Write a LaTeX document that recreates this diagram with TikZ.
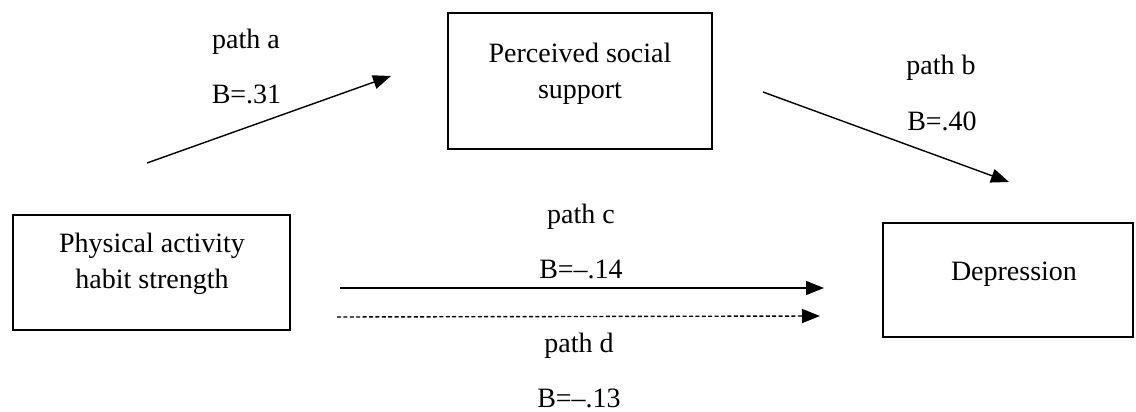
\documentclass[tikz,border=0pt]{standalone}
\usepackage{fontspec}
\setmainfont{Liberation Serif}
\usetikzlibrary{arrows.meta,positioning}
\tikzset{
    >={Triangle[length=9pt,width=7pt]},
    varbox/.style={rectangle, draw, line width=0.9pt, inner sep=0pt},
    boxtext/.style={align=center, inner sep=0pt},
    pathlbl/.style={anchor=base, inner sep=0pt},
    effect/.style={->, line width=0.7pt},
    indirect/.style={->, line width=0.7pt, dash pattern=on 2pt off 1.2pt}
}

\begin{document}
\begin{tikzpicture}[x=0.5pt, y=-0.5pt, font=\fontsize{14pt}{18pt}\selectfont]
    \useasboundingbox (0,0) rectangle (1136,412);

    % the three variables
    \node[varbox, minimum width=138.5pt, minimum height=57.5pt] (pahs) at (151.5,272.5) {};
    \node[boxtext] (pahsText) at (152,264) {Physical activity\\habit strength};

    \node[varbox, minimum width=132pt, minimum height=68pt] (pss) at (580,81) {};
    \node[boxtext] (pssText) at (580,74) {Perceived social\\support};

    \node[varbox, minimum width=125pt, minimum height=57pt] (dep) at (1008,280) {};
    \node[boxtext] (depText) at (1014,274) {Depression};

    % free arrow ends
    \coordinate (a0) at (147,163);
    \coordinate (a1) at (391,76);
    \coordinate (b0) at (763,92);
    \coordinate (b1) at (1009,182);
    \coordinate (c0) at (340,288);
    \coordinate (c1) at (824,288);
    \coordinate (d0) at (337,317);
    \coordinate (d1) at (820,316);

    \draw[effect] (a0) -- (a1);
    \draw[effect] (b0) -- (b1);
    \draw[effect] (c0) -- (c1);
    \draw[indirect] (d0) -- (d1);

    % path labels
    \node[pathlbl] (pa) at (246,48) {path a};
    \node[pathlbl] (pav) at (246.5,103) {B=.31};
    \node[pathlbl] (pb) at (941,75) {path b};
    \node[pathlbl] (pbv) at (942,130) {B=.40};
    \node[pathlbl] (pc) at (581,223) {path c};
    \node[pathlbl] (pcv) at (581,278) {B=--.14};
    \node[pathlbl] (pd) at (579,352) {path d};
    \node[pathlbl] (pdv) at (579,407) {B=--.13};
\end{tikzpicture}
\end{document}
